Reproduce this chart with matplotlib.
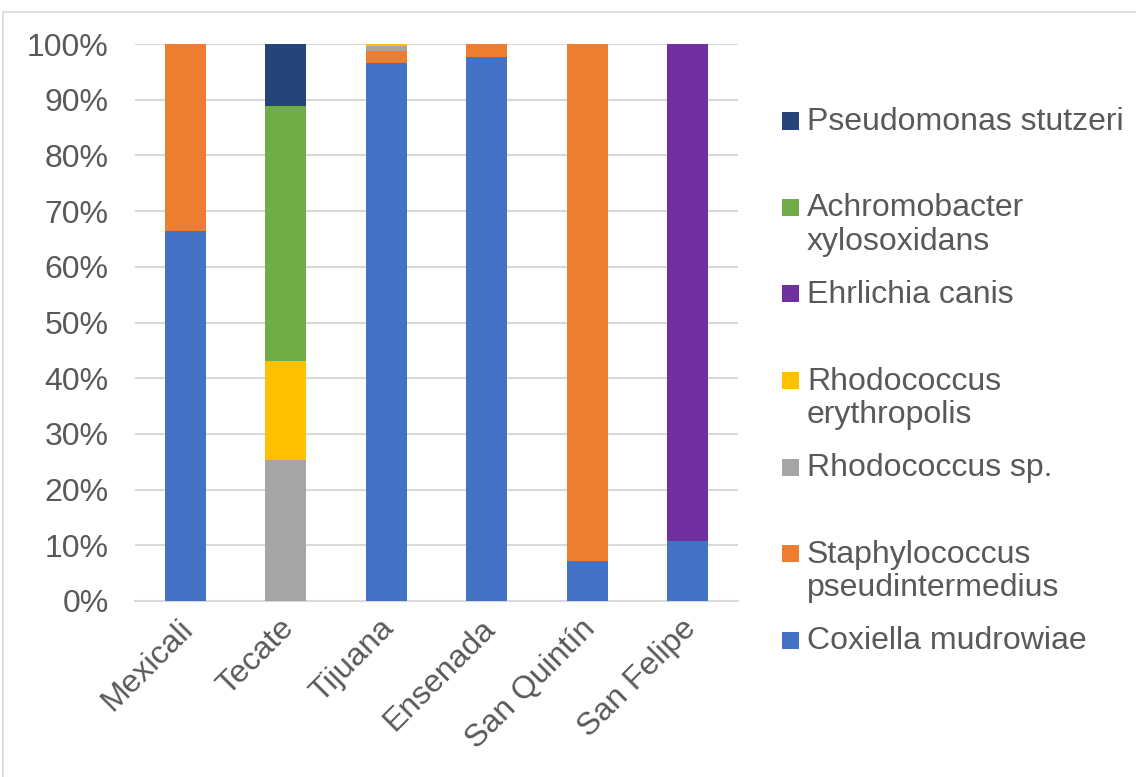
import matplotlib
matplotlib.use("Agg")
import matplotlib.pyplot as plt
from matplotlib.patches import Rectangle
from matplotlib.transforms import ScaledTranslation
import numpy as np

plt.rcParams['font.family'] = ['Liberation Sans', 'DejaVu Sans']

sites = ["Mexicali", "Tecate", "Tijuana", "Ensenada", "San Quintín", "San Felipe"]
series_names = ["Coxiella mudrowiae", "Staphylococcus pseudintermedius", "Rhodococcus sp.",
                "Rhodococcus erythropolis", "Ehrlichia canis", "Achromobacter xylosoxidans",
                "Pseudomonas stutzeri"]
legend_labels = ["Coxiella mudrowiae", "Staphylococcus\npseudintermedius", "Rhodococcus sp.",
                 "Rhodococcus\nerythropolis", "Ehrlichia canis", "Achromobacter\nxylosoxidans",
                 "Pseudomonas stutzeri"]
colors = ["#4472C4", "#ED7D31", "#A5A5A5", "#FFC000", "#7030A0", "#70AD47", "#264478"]

coxiella       = [66.4, 0.0, 96.6, 97.6, 7.2, 10.8]
staphylococcus = [33.6, 0.0, 2.2, 2.4, 92.8, 0.0]
rhodococcus_sp = [0.0, 25.3, 0.9, 0.0, 0.0, 0.0]
rhodococcus_er = [0.0, 17.8, 0.3, 0.0, 0.0, 0.0]
ehrlichia      = [0.0, 0.0, 0.0, 0.0, 0.0, 89.2]
achromobacter  = [0.0, 45.8, 0.0, 0.0, 0.0, 0.0]
pseudomonas    = [0.0, 11.1, 0.0, 0.0, 0.0, 0.0]
series = [coxiella, staphylococcus, rhodococcus_sp, rhodococcus_er, ehrlichia, achromobacter, pseudomonas]

W, H = 1136, 777
FS = 23
fig = plt.figure(figsize=(W/100, H/100), dpi=100)
ax = fig.add_axes([135/W, 1-601/H, (738-135)/W, (601-44)/H])

x = np.arange(len(sites))
bottom = np.zeros(len(sites))
for vals, c in zip(series, colors):
    v = np.array(vals)
    ax.bar(x, v, bottom=bottom, width=0.41, color=c, zorder=3)
    bottom += v

ax.set_xlim(-0.5, len(sites)-0.5)
ax.set_ylim(0, 100)
ax.set_yticks(np.arange(0, 101, 10))
ax.set_yticklabels([f"{t}%" for t in range(0, 101, 10)], fontsize=FS, color="#595959")
ax.yaxis.grid(True, color="#D9D9D9", linewidth=1.5, zorder=0)
ax.tick_params(axis='y', length=0, pad=19)
ax.tick_params(axis='x', length=0, pad=9)
ax.set_xticks(x)
ax.set_xticklabels(sites, rotation=45, ha='right', rotation_mode='anchor', fontsize=FS, color="#595959")
off = ScaledTranslation(-7/100, 0, fig.dpi_scale_trans)
for lbl in ax.get_xticklabels():
    lbl.set_transform(lbl.get_transform() + off)
for s in ['top', 'right', 'left']:
    ax.spines[s].set_visible(False)
ax.spines['bottom'].set_color("#D9D9D9")
ax.spines['bottom'].set_linewidth(1.5)

# legend (manual, reversed order)
y0 = 121
step = 86.5
for i, (lab, c) in enumerate(zip(legend_labels[::-1], colors[::-1])):
    yc = y0 + i*step
    fig.patches.append(Rectangle((782/W, 1-(yc+8.5)/H), 17/W, 17/H, transform=fig.transFigure,
                                 facecolor=c, edgecolor='none'))
    fig.text(807/W, 1-(yc-14)/H, lab, fontsize=FS, color="#595959", va='top', ha='left',
             linespacing=1.17)

fig.patches.append(Rectangle((3/W, -0.01), 1.02, 1-12/H+0.01, transform=fig.transFigure,
                             facecolor='none', edgecolor="#D9D9D9", linewidth=1.2))

fig.savefig("out.png", dpi=100, facecolor='white')
